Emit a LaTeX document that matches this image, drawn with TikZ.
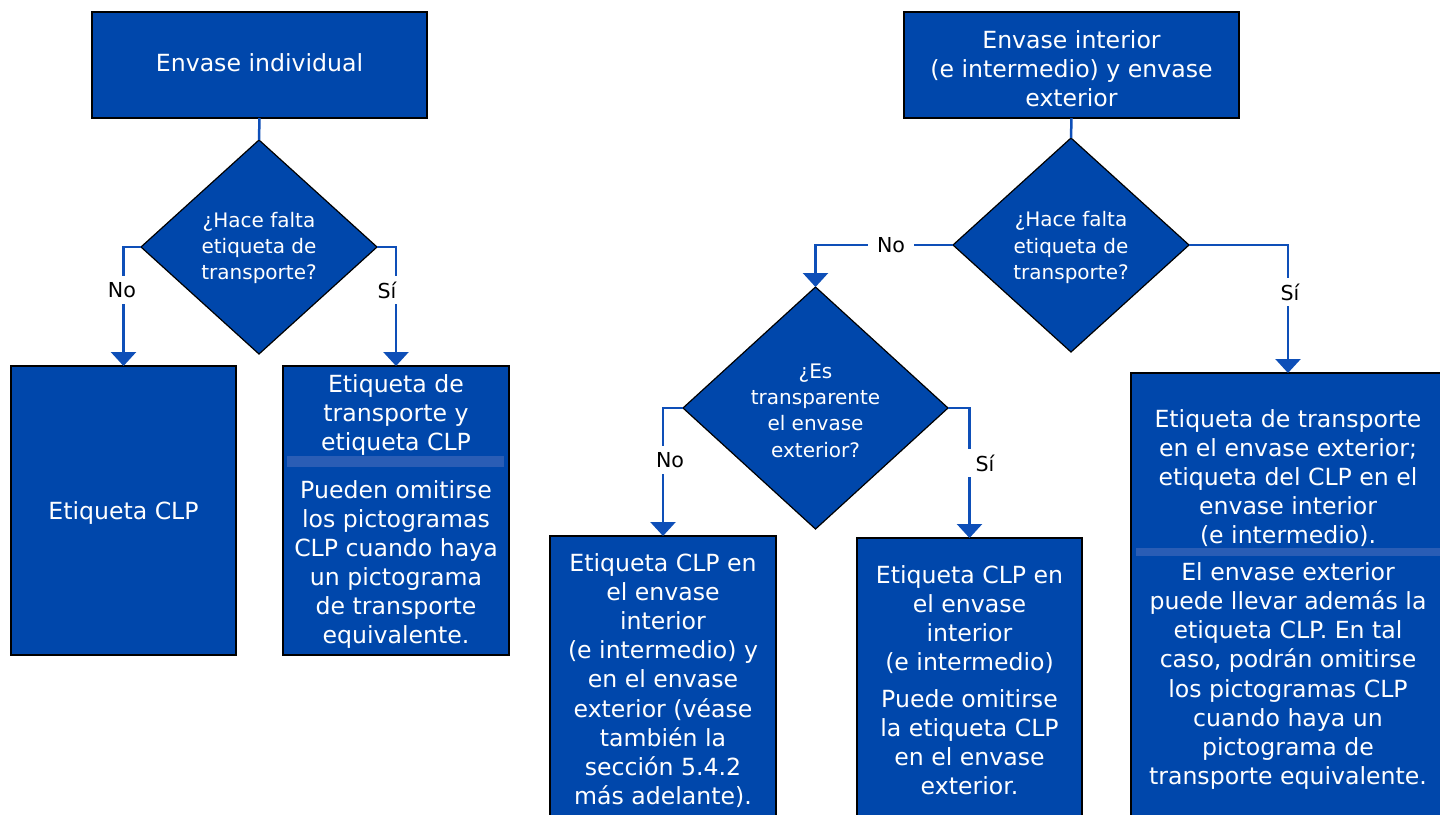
\documentclass[tikz,border=0pt]{standalone}
\usepackage{fontspec}
\setmainfont{DejaVu Sans}
\usetikzlibrary{shapes.geometric,arrows.meta}
\definecolor{boxblue}{HTML}{0047AB}
\definecolor{lineblue}{HTML}{0E4FB8}
\definecolor{stripeblue}{HTML}{2A5DB5}
\tikzset{
  boxshape/.style={rectangle,draw=black,line width=0.8pt,fill=boxblue,inner sep=0pt,outer sep=0pt},
  dshape/.style={diamond,draw=black,line width=0.6pt,fill=boxblue,inner sep=0pt,outer sep=0pt},
  boxtext/.style={text=white,align=center,inner sep=0pt,font=\fontsize{11.8}{14.55}\selectfont},
  dtext/.style={text=white,align=center,inner sep=0pt,font=\fontsize{10}{13.2}\selectfont},
  lbl/.style={fill=white,text=black,inner xsep=2pt,inner ysep=3pt,font=\fontsize{10.3}{12}\selectfont},
  conn/.style={draw=lineblue,line width=1.25pt},
  arr/.style={conn,-{Triangle[width=12.5pt,length=7pt]}},
}
\begin{document}
\begin{tikzpicture}[x=0.5pt,y=-0.5pt]
\useasboundingbox (0,0) rectangle (1440,814);
\clip (0,0) rectangle (1440,814);
\fill[white] (0,0) rectangle (1440,814);
% left branch
\node[boxshape,minimum width=167.5pt,minimum height=53pt] (b1) at (259.5,65) {};
\node[boxtext] (b1t) at (259.5,63) {Envase individual};
\node[dshape,minimum width=118pt,minimum height=107pt] (d1) at (259,247) {};
\node[dtext] (d1t) at (259,248) {¿Hace falta\\etiqueta de\\transporte?};
\node[boxshape,minimum width=112.5pt,minimum height=144.5pt] (c1) at (123.5,510.5) {};
\node[boxtext] (c1t) at (123.5,513) {Etiqueta CLP};
\node[boxshape,minimum width=113pt,minimum height=144.5pt] (b2) at (396,510.5) {};
\fill[stripeblue] (287,456) rectangle (504,467);
\node[boxtext] (b2t) at (396,415) {Etiqueta de\\transporte y\\etiqueta CLP};
\node[boxtext] (b2u) at (396,564.5) {Pueden omitirse\\los pictogramas\\CLP cuando haya\\un pictograma\\de transporte\\equivalente.};
% right branch
\node[boxshape,minimum width=167.5pt,minimum height=53pt] (b3) at (1071.5,65) {};
\node[boxtext] (b3t) at (1071.5,69) {Envase interior\\(e intermedio) y envase\\exterior};
\node[dshape,minimum width=118pt,minimum height=107pt] (d2) at (1071,245) {};
\node[dtext] (d2t) at (1071,247.5) {¿Hace falta\\etiqueta de\\transporte?};
\node[dshape,minimum width=132.5pt,minimum height=121pt] (d3) at (815.5,408) {};
\node[dtext] (d3t) at (815.5,410.5) {¿Es\\transparente\\el envase\\exterior?};
\node[boxshape,minimum width=113pt,minimum height=147pt] (b4) at (663,683) {};
\node[boxtext] (b4t) at (663,680.5) {Etiqueta CLP en\\el envase\\interior\\(e intermedio) y\\en el envase\\exterior (véase\\también la\\sección 5.4.2\\más adelante).};
\node[boxshape,minimum width=112.5pt,minimum height=146pt] (b5) at (969.5,684) {};
\node[boxtext] (b5t) at (969.5,619.5) {Etiqueta CLP en\\el envase\\interior\\(e intermedio)};
\node[boxtext] (b5u) at (969.5,742.5) {Puede omitirse\\la etiqueta CLP\\en el envase\\exterior.};
\node[boxshape,minimum width=157pt,minimum height=228.5pt] (b6) at (1288,601.5) {};
\fill[stripeblue] (1136,548) rectangle (1445,556);
\node[boxtext] (b6t) at (1288,478) {Etiqueta de transporte\\en el envase exterior;\\etiqueta del CLP en el\\envase interior\\(e intermedio).};
\node[boxtext] (b6u) at (1288,676) {El envase exterior\\puede llevar además la\\etiqueta CLP. En tal\\caso, podrán omitirse\\los pictogramas CLP\\cuando haya un\\pictograma de\\transporte equivalente.};
% connectors
\draw[conn] (b1.south) -- (d1.north);
\draw[arr] (d1.west) -| (c1.north);
\draw[arr] (d1.east) -| (b2.north);
\draw[conn] (b3.south) -- (d2.north);
\draw[arr] (d2.west) -| (d3.north);
\draw[arr] (d2.east) -| (b6.north);
\draw[arr] (d3.west) -| (b4.north);
\draw[arr] (d3.east) -| (b5.north);
% labels
\node[lbl] (l1) at (122,290) {No};
\node[lbl] (l2) at (387,290) {Sí};
\node[lbl,inner xsep=4.5pt] (l3) at (891,245) {No};
\node[lbl] (l4) at (1290,292) {Sí};
\node[lbl,inner xsep=4pt] (l5) at (670,460) {No};
\node[lbl,inner xsep=5pt] (l6) at (985,463) {Sí};
\end{tikzpicture}
\end{document}
